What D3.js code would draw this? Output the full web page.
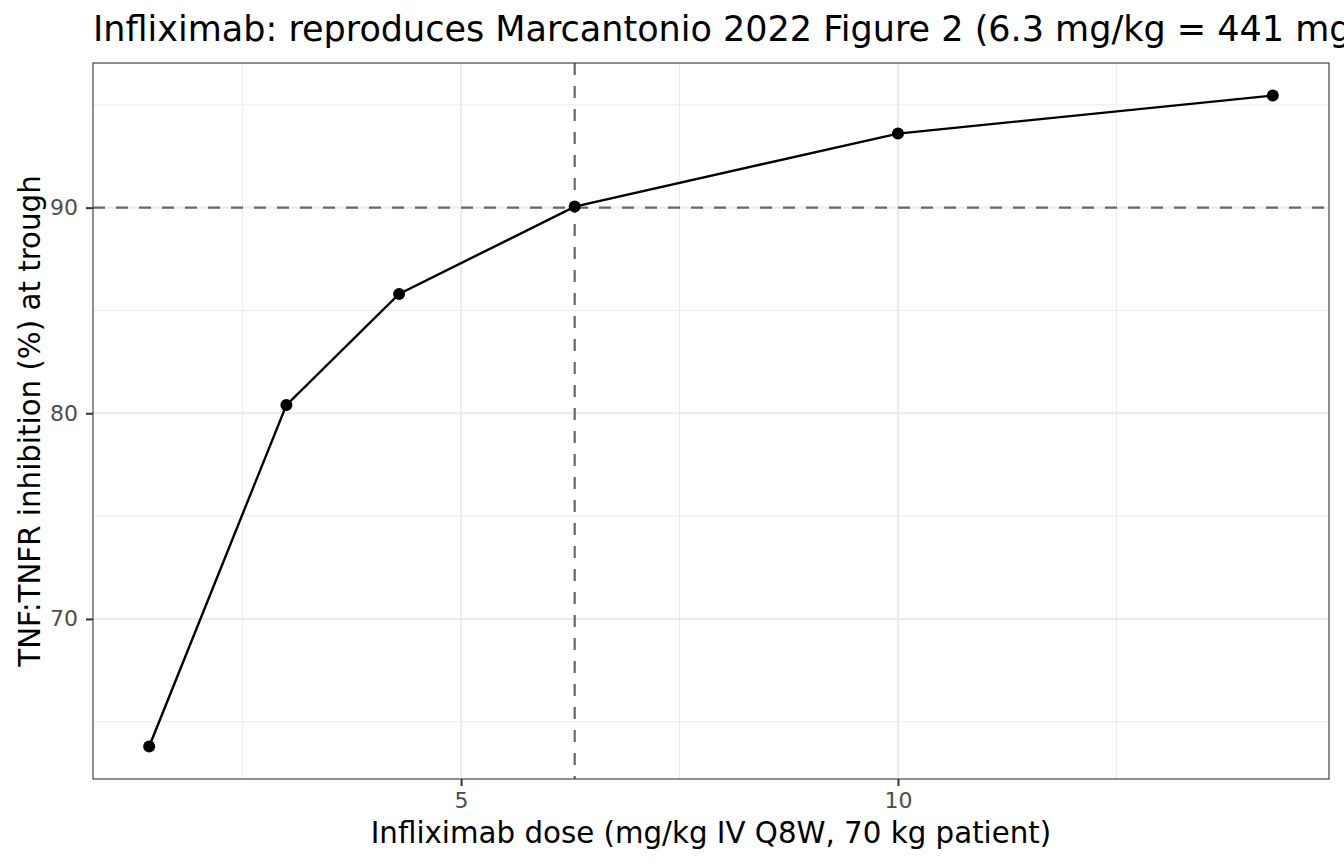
<!DOCTYPE html>
<html>
<head>
<meta charset="utf-8">
<script src="https://cdn.jsdelivr.net/npm/d3@7"></script>
<style>
  body { margin: 0; background: #fff; }
  svg { display: block; font-family: "DejaVu Sans", sans-serif; }
</style>
</head>
<body>
<svg width="1344" height="864"></svg>
<script>
// dose (mg/kg) and trough TNF:TNFR inhibition (%)
var dose = [1.43, 3.0, 4.29, 6.3, 10.0, 14.29];
var inhibition = [63.8, 80.4, 85.8, 90.05, 93.6, 95.45];
var xTicks = [5, 10];
var yTicks = [70, 80, 90];
var xMinor = [2.5, 7.5, 12.5];
var yMinor = [65, 75, 85, 95];
var refDose = 6.3, refInhib = 90;

var svg = d3.select("svg"),
    margin = {top: 63, right: 15, bottom: 85, left: 93},
    width = +svg.attr("width") - margin.left - margin.right,
    height = +svg.attr("height") - margin.top - margin.bottom,
    g = svg.append("g").attr("transform", "translate(" + margin.left + "," + margin.top + ")");

var xr = d3.extent(dose), yr = d3.extent(inhibition);
var xpad = (xr[1] - xr[0]) * 0.05, ypad = (yr[1] - yr[0]) * 0.05;

var x = d3.scaleLinear()
    .domain([xr[0] - xpad, xr[1] + xpad])
    .range([0, width]);

var y = d3.scaleLinear()
    .domain([yr[0] - ypad, yr[1] + ypad])
    .range([height, 0]);

// grid
g.selectAll(".xminor").data(xMinor).enter().append("line")
    .attr("x1", function(d) { return x(d); }).attr("x2", function(d) { return x(d); })
    .attr("y1", 0).attr("y2", height)
    .attr("stroke", "#ebebeb").attr("stroke-width", 1);
g.selectAll(".yminor").data(yMinor).enter().append("line")
    .attr("y1", function(d) { return y(d); }).attr("y2", function(d) { return y(d); })
    .attr("x1", 0).attr("x2", width)
    .attr("stroke", "#ebebeb").attr("stroke-width", 1);
g.selectAll(".xmajor").data(xTicks).enter().append("line")
    .attr("x1", function(d) { return x(d); }).attr("x2", function(d) { return x(d); })
    .attr("y1", 0).attr("y2", height)
    .attr("stroke", "#ebebeb").attr("stroke-width", 2);
g.selectAll(".ymajor").data(yTicks).enter().append("line")
    .attr("y1", function(d) { return y(d); }).attr("y2", function(d) { return y(d); })
    .attr("x1", 0).attr("x2", width)
    .attr("stroke", "#ebebeb").attr("stroke-width", 2);

// reference lines
g.append("line")
    .attr("x1", x(refDose)).attr("x2", x(refDose))
    .attr("y1", 0).attr("y2", height)
    .attr("stroke", "#666").attr("stroke-width", 2.2)
    .attr("stroke-dasharray", "12,11");
g.append("line")
    .attr("x1", 0).attr("x2", width)
    .attr("y1", y(refInhib)).attr("y2", y(refInhib))
    .attr("stroke", "#666").attr("stroke-width", 2.2)
    .attr("stroke-dasharray", "12,11");

var line = d3.line()
    .x(function(d, i) { return x(dose[i]); })
    .y(function(d) { return y(d); });

g.append("path")
    .attr("fill", "none")
    .attr("stroke", "#000")
    .attr("stroke-width", 2.4)
    .attr("d", line(inhibition));

g.selectAll(".pt").data(inhibition).enter().append("circle")
    .attr("cx", function(d, i) { return x(dose[i]); })
    .attr("cy", function(d) { return y(d); })
    .attr("r", 6)
    .attr("fill", "#000");

// panel border
g.append("rect")
    .attr("width", width).attr("height", height)
    .attr("fill", "none").attr("stroke", "#333").attr("stroke-width", 1.1);

// axes
var xAxis = g.append("g")
    .attr("transform", "translate(0," + height + ")")
    .call(d3.axisBottom(x).tickValues(xTicks).tickSize(7).tickPadding(6));
var yAxis = g.append("g")
    .call(d3.axisLeft(y).tickValues(yTicks).tickSize(7).tickPadding(8));
[xAxis, yAxis].forEach(function(a) {
  a.select(".domain").remove();
  a.selectAll(".tick line").attr("stroke", "#333").attr("stroke-width", 2);
  a.selectAll(".tick text").attr("fill", "#4d4d4d")
      .style("font-size", "22px").style("font-family", "DejaVu Sans, sans-serif");
});

svg.append("text")
    .attr("x", margin.left + width / 2)
    .attr("y", 843)
    .attr("text-anchor", "middle")
    .style("font-size", "29.3px")
    .text("Infliximab dose (mg/kg IV Q8W, 70 kg patient)");

svg.append("text")
    .attr("transform", "translate(40," + (margin.top + height / 2) + ") rotate(-90)")
    .attr("text-anchor", "middle")
    .style("font-size", "29.3px")
    .text("TNF:TNFR inhibition (%) at trough");

svg.append("text")
    .attr("x", 93)
    .attr("y", 41)
    .style("font-size", "35px")
    .text("Infliximab: reproduces Marcantonio 2022 Figure 2 (6.3 mg/kg = 441 mg for 90% inhibition)");
</script>
</body>
</html>
